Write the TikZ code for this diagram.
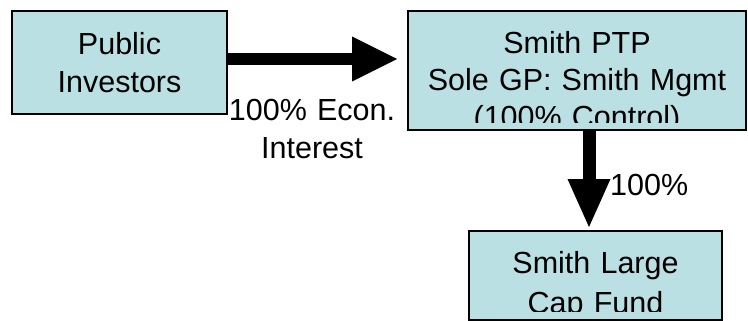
\documentclass[tikz,border=0pt]{standalone}
\usepackage{fontspec}
\setmainfont{Liberation Sans}
\usetikzlibrary{arrows.meta,calc}
\definecolor{boxfill}{RGB}{187,224,228}
\tikzset{
  box/.style={draw=black, line width=1.5pt, fill=boxfill, rectangle,
    inner sep=0pt, outer sep=0pt},
  boxtext/.style={font=\fontsize{30.5}{#1}\selectfont, align=center,
    text width=330pt, anchor=base, inner sep=0pt},
  lbl/.style={font=\fontsize{30.5}{38}\selectfont, inner sep=0pt},
  bigarrow/.style={draw=black, line cap=butt}
}
\begin{document}
\begin{tikzpicture}[x=1pt, y=-1pt]
\useasboundingbox (0,0) rectangle (748,321);

% the three entities
\node[box, minimum width=215pt, minimum height=103pt] (pub) at (119.5,62.5) {};
\node[box, minimum width=338pt, minimum height=119pt] (ptp) at (577,70.5) {};
\node[box, minimum width=253pt, minimum height=89pt] (fund) at (595.5,275.5) {};

% box captions, cut off at the inner text frame
\node[boxtext=38] (pubtext) at (119.5,54.5) {Public\\Investors};
\begin{scope}
  \clip (ptp.north west) rectangle ($(ptp.south east)+(0,-7)$);
  \node[boxtext=37] (ptptext) at (577,54) {Smith PTP\\Sole GP: Smith Mgmt\\(100\% Control)};
\end{scope}
\begin{scope}
  \clip (fund.north west) rectangle ($(fund.south east)+(0,-9)$);
  \node[boxtext=40] (fundtext) at (595.5,273.5) {Smith Large\\Cap Fund};
\end{scope}

% ownership arrows
\coordinate (h1) at ($(pub.east)+(1,-3.5)$);
\coordinate (h2) at (h1 -| ptp.west);
\draw[bigarrow, line width=12.5pt,
  -{Triangle[length=45pt,width=45pt,line width=0pt]}, shorten >=11pt] (h1) -- (h2);

\coordinate (v1) at ($(ptp.south)+(12,0)$);
\coordinate (v2) at (v1 |- fund.north);
\draw[bigarrow, line width=13pt,
  -{Triangle[length=48pt,width=43pt,line width=0pt]}, shorten >=4pt] (v1) -- (v2);

% arrow labels
\node[lbl, align=center, text width=200pt, anchor=base] (econ) at (312,121) {100\% Econ.\\Interest};
\node[lbl, anchor=base west] (pct) at (610,195) {100\%};
\end{tikzpicture}
\end{document}
